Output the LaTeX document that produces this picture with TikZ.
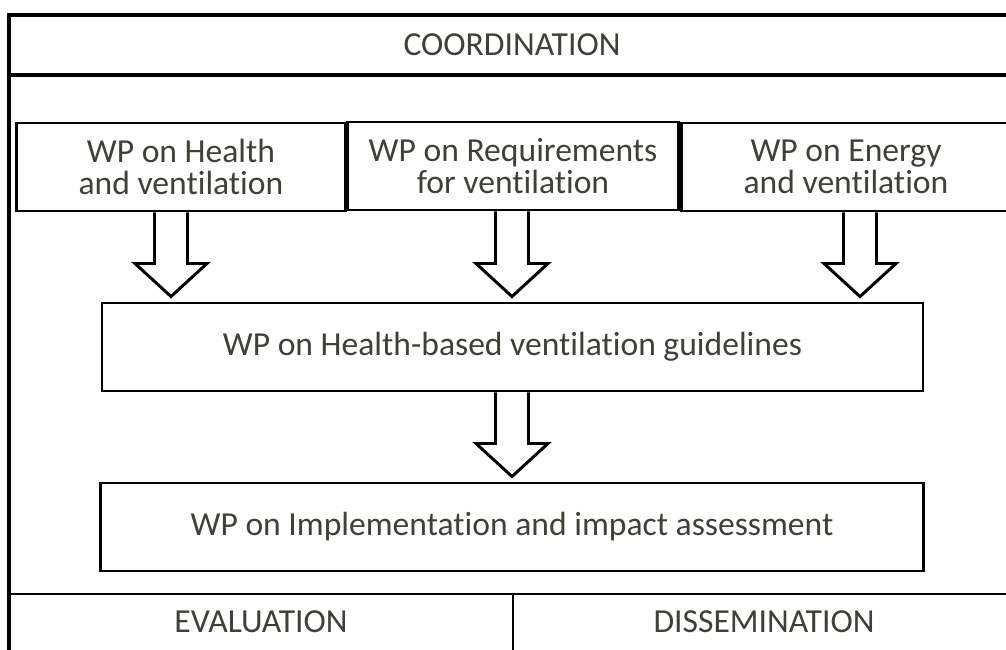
\documentclass[tikz,border=0pt]{standalone}
\usepackage{fontspec}
\setmainfont{Carlito}[RawFeature={-liga;-clig;-calt;-dlig}]
\usepackage{tikz}
\usepackage{xcolor}
\usetikzlibrary{positioning, calc}
\definecolor{wptext}{RGB}{64,64,56}

\tikzset{
  wpbox/.style={draw, line width=2.1pt, rectangle, align=center, text=wptext,
    font=\fontsize{23.9}{22.8}\selectfont, inner sep=0pt},
  bandlabel/.style={text=wptext, font=\fontsize{23.9}{22.8}\selectfont, inner sep=0pt},
  fatarrow/.style={draw, line width=2.1pt, line join=miter, fill=white}
}

\begin{document}
\begin{tikzpicture}[x=0.025cm, y=-0.025cm]
\useasboundingbox (0,0) rectangle (1006,650);
\clip (0,0) rectangle (1006,650);
% outer frame and bands
\draw[line width=2.3pt] (9,15) rectangle (1020,670);
\draw[line width=2.3pt] (9,75) -- (1020,75);
\draw[line width=1.8pt] (9,594) -- (1020,594);
\draw[line width=1.8pt] (513,594) -- (513,670);
\node[bandlabel] (coord) at (512,45) {COORDINATION};
\node[bandlabel] (eval) at (261,622) {EVALUATION};
\node[bandlabel] (diss) at (764,622) {DISSEMINATION};
% work packages
\node[wpbox, minimum width=8.2cm, minimum height=2.2cm] (health) at (181,167) {WP on Health\\and ventilation};
\node[wpbox, minimum width=8.25cm, minimum height=2.2cm] (req) at (513,166) {WP on Requirements\\for ventilation};
\node[wpbox, minimum width=8.2cm, minimum height=2.2cm] (energy) at (846,167) {WP on Energy\\and ventilation};
\node[wpbox, minimum width=20.52cm, minimum height=2.2cm] (guide) at (512.5,347) {WP on Health-based ventilation guidelines};
\node[wpbox, minimum width=20.55cm, minimum height=2.2cm] (impl) at (512,527) {WP on Implementation and impact assessment};
% arrow axes
\coordinate (a1) at (171,0);
\coordinate (a2) at (512,0);
\coordinate (a3) at (860,0);
% block arrows
\foreach \src/\dst/\ax in {health/guide/a1, req/guide/a2, energy/guide/a3, guide/impl/a2}{
  \draw[fatarrow] ($(\src.south -| \ax)+(-16.5,0)$) -- ($(\dst.north -| \ax)+(-16.5,-38)$)
    -- ($(\dst.north -| \ax)+(-36,-38)$) -- ($(\dst.north -| \ax)+(0,-5)$)
    -- ($(\dst.north -| \ax)+(36,-38)$) -- ($(\dst.north -| \ax)+(16.5,-38)$)
    -- ($(\src.south -| \ax)+(16.5,0)$);
}
\end{tikzpicture}
\end{document}
